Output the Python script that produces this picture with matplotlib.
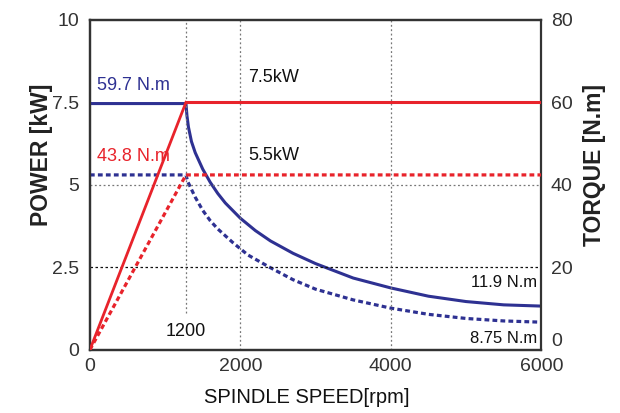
import matplotlib.pyplot as plt

plt.rcParams["font.family"] = ["Liberation Sans", "DejaVu Sans"]

RED = "#e8232b"
BLUE = "#2e3192"
DARK = "#333333"

# power curves [kW] vs speed [rpm]
power_s1_rpm = [0, 1277, 6000]
power_s1_kw = [0, 7.5, 7.5]
power_s2_rpm = [0, 1277, 6000]
power_s2_kw = [0, 5.3, 5.3]

# torque curves [N.m] vs speed [rpm]
torque_s1_rpm = [0, 1277, 1290, 1310, 1350, 1400, 1500, 1600, 1700, 1800, 2000, 2200,
                 2400, 2700, 3000, 3500, 4000, 4500, 5000, 5500, 6000]
torque_s1_nm = [59.7, 59.7, 56.8, 54.0, 50.5, 47.8, 43.8, 40.6, 37.9, 35.6, 31.9, 28.9,
                26.4, 23.4, 20.9, 17.4, 15.0, 13.0, 11.7, 10.9, 10.6]
torque_s2_rpm = [0, 1277, 1300, 1400, 1500, 1600, 1700, 1900, 2100, 2400, 2700,
                 3000, 3500, 4000, 4500, 5000, 5500, 6000]
torque_s2_nm = [42.4, 42.4, 40.8, 37.0, 33.8, 31.3, 29.3, 26.0, 23.0, 19.9, 17.0,
                14.7, 12.1, 10.1, 8.6, 7.6, 7.0, 6.7]

x_ticks = [0, 2000, 4000, 6000]
power_ticks = [0, 2.5, 5, 7.5, 10]
power_labels = ["0", "2.5", "5", "7.5", "10"]
torque_ticks = [0, 20, 40, 60, 80]

fig = plt.figure(figsize=(6.2, 4.13), dpi=100)
ax = fig.add_axes([0.145, 0.153, 0.728, 0.799])
ax2 = ax.twinx()

ax.set_xlim(0, 6000)
ax.set_ylim(0, 10)
ax2.set_ylim(0, 80)

# grid
for y, c, ls in [(2.5, "#111111", (0, (2, 2))), (5, "#777777", (0, (1.5, 2)))]:
    ax.axhline(y, color=c, lw=0.9, ls=ls, zorder=1)
for x in [2000, 4000]:
    ax.axvline(x, color="#777777", lw=0.9, ls=(0, (1.5, 2)), zorder=1)
ax.axvline(1277, ymin=0.112, ymax=1, color="#777777", lw=0.9, ls=(0, (1.5, 2)), zorder=1)

dot = (0, (1.5, 1.0))
ax.plot(power_s2_rpm, power_s2_kw, color=RED, lw=2.3, ls=dot, zorder=3)
ax2.plot(torque_s2_rpm, torque_s2_nm, color=BLUE, lw=2.3, ls=dot, zorder=3)
ax2.plot(torque_s1_rpm, torque_s1_nm, color=BLUE, lw=2.2, zorder=4)
ax.plot(power_s1_rpm[1:], power_s1_kw[1:], color=RED, lw=2.2, zorder=4)
ax.plot(power_s1_rpm[:2], power_s1_kw[:2], color=RED, lw=2.0, zorder=5)
ax.set_zorder(ax2.get_zorder() + 1)
ax.patch.set_visible(False)

ax.set_xticks(x_ticks)
ax.set_yticks(power_ticks, power_labels)
ax2.set_yticks(torque_ticks)
for a in (ax, ax2):
    a.tick_params(length=0, labelsize=14, labelcolor=DARK)
    for s in a.spines.values():
        s.set_color(DARK)
        s.set_linewidth(1.6)
ax2.spines["right"].set_linewidth(1.2)
ax.tick_params(axis="y", pad=8)
ax.tick_params(axis="x", pad=6)
ax2.tick_params(axis="y", pad=7)
ax2.get_yticklabels()[0].set_verticalalignment("bottom")

ax.set_ylabel("POWER [kW]", fontsize=16.5, fontweight="bold", color="#222222")
ax.yaxis.set_label_coords(-0.082, 0.59)
ax2.set_ylabel("TORQUE [N.m]", fontsize=16.5, fontweight="bold", color="#222222")
ax2.yaxis.set_label_coords(1.093, 0.56)
ax.set_xlabel("SPINDLE SPEED[rpm]", fontsize=14.5, color="#111111")
ax.xaxis.set_label_coords(0.48, -0.115)

# annotations
ax.text(100, 8.0, "59.7 N.m", color=BLUE, fontsize=13, va="center")
ax.text(100, 5.85, "43.8 N.m", color=RED, fontsize=13, va="center")
ax.text(2100, 8.24, "7.5kW", color="#111111", fontsize=13, va="center")
ax.text(2100, 5.9, "5.5kW", color="#111111", fontsize=13, va="center")
ax2.text(5950, 16.2, "11.9 N.m", color="#111111", fontsize=12, ha="right", va="center")
ax2.text(5950, 2.7, "8.75 N.m", color="#111111", fontsize=12, ha="right", va="center")
ax.text(1277, 0.55, "1200", color="#111111", fontsize=13, ha="center", va="center")

fig.savefig("out.png", dpi=100)
